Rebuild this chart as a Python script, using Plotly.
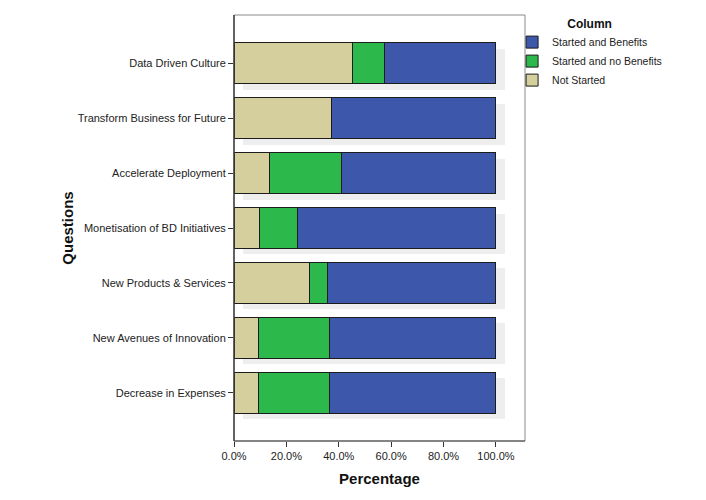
import plotly.graph_objects as go

questions = ["Data Driven Culture", "Transform Business for Future", "Accelerate Deployment",
             "Monetisation of BD Initiatives", "New Products & Services",
             "New Avenues of Innovation", "Decrease in Expenses"]
not_started = [45.4, 37.3, 13.5, 9.9, 29.0, 9.2, 9.2]
started_no_benefits = [12.2, 0.0, 27.6, 14.4, 6.8, 27.3, 27.3]
started_benefits = [42.4, 62.7, 58.9, 75.7, 64.2, 63.5, 63.5]
shadow_total = [100, 100, 100, 100, 100, 100, 100]
x_ticks = [0, 20, 40, 60, 80, 100]
x_tick_labels = ["0.0%", "20.0%", "40.0%", "60.0%", "80.0%", "100.0%"]

FONT = "Liberation Sans, Arial, sans-serif"
outline = dict(color="#1c1c1c", width=1)
BW = 0.745

fig = go.Figure()
# soft drop shadow behind the bars (on hidden, slightly shifted axes)
fig.add_trace(go.Bar(y=questions, x=shadow_total, orientation="h", width=BW,
                     marker=dict(color="#eeeeee", line=dict(width=0)),
                     showlegend=False, hoverinfo="skip", xaxis="x", yaxis="y"))

fig.add_trace(go.Bar(y=questions, x=not_started, name="Not Started", orientation="h", width=BW,
                     marker=dict(color="#D4CF9D", line=outline), xaxis="x2", yaxis="y2"))
fig.add_trace(go.Bar(y=questions, x=started_no_benefits, name="Started and no Benefits", orientation="h",
                     width=BW, marker=dict(color="#2DB84B", line=outline), xaxis="x2", yaxis="y2"))
fig.add_trace(go.Bar(y=questions, x=started_benefits, name="Started and Benefits", orientation="h",
                     width=BW, marker=dict(color="#3D57AB", line=outline), xaxis="x2", yaxis="y2"))

xr = [0, 111.1]
yr = [6.88, -0.88]
fig.update_layout(
    width=706, height=500,
    margin=dict(l=226, r=189, t=7, b=67, autoexpand=False),
    paper_bgcolor="white", plot_bgcolor="white",
    barmode="stack",
    font=dict(family=FONT, size=11, color="#222222"),
    xaxis=dict(range=[xr[0] - 3.6, xr[1] - 3.6], visible=False, fixedrange=True),
    yaxis=dict(range=[yr[0] - 0.11, yr[1] - 0.11], visible=False, type="category",
               categoryorder="array", categoryarray=questions),
    xaxis2=dict(overlaying="x", side="bottom", range=xr, tickvals=x_ticks, ticktext=x_tick_labels,
                ticks="outside", ticklen=5, tickcolor="#333", showgrid=False, zeroline=False,
                showline=False, tickfont=dict(size=11, color="#222"),
                title=dict(text="<b>Percentage</b>", font=dict(size=15, color="#111"), standoff=12)),
    yaxis2=dict(overlaying="y", side="left", type="category", categoryorder="array",
                categoryarray=questions, range=yr, ticks="outside", ticklen=5, tickcolor="#333",
                showgrid=False, zeroline=False, showline=False, tickfont=dict(size=11, color="#222"),
                title=dict(text="<b>Questions</b>", font=dict(size=15, color="#111"), standoff=0)),
    legend=dict(xref="container", yref="container", x=0.714, y=0.992, xanchor="left", yanchor="top",
                traceorder="reversed",
                title=dict(text="<b>Column</b>", side="top center", font=dict(size=12, color="#111")),
                font=dict(size=10.5, color="#222"), bgcolor="rgba(0,0,0,0)", itemwidth=30,
                tracegroupgap=0),
    shapes=[
        dict(type="rect", xref="paper", yref="paper", x0=0, x1=1, y0=0, y1=1,
             line=dict(color="#8a8a8a", width=1)),
        dict(type="line", xref="paper", yref="paper", x0=0, x1=0, y0=0, y1=1,
             line=dict(color="#222", width=1.2)),
        dict(type="line", xref="paper", yref="paper", x0=0, x1=1, y0=0, y1=0,
             line=dict(color="#444", width=1.2)),
    ],
)

fig.write_html("out.html")
